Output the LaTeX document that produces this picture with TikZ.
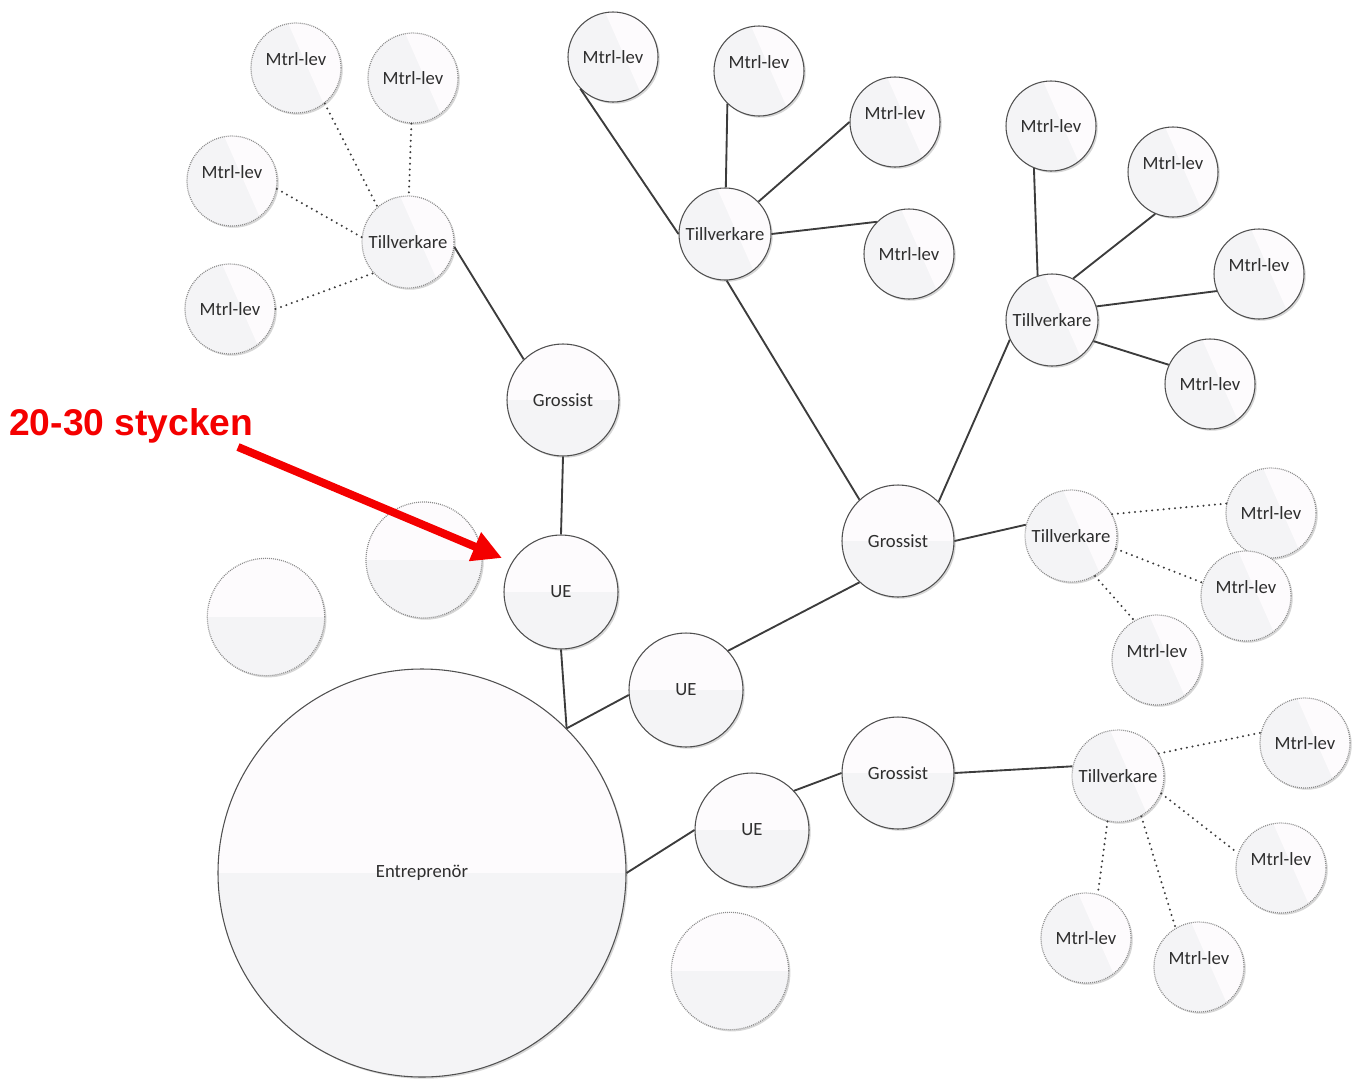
\documentclass[tikz,border=0pt]{standalone}
\usepackage{fontspec}
\setmainfont{Carlito}
\newfontfamily\redfont{Liberation Sans}
\usetikzlibrary{shadows,arrows.meta}
\definecolor{edgeC}{HTML}{505050}
\definecolor{dotC}{HTML}{8A8A8A}
\definecolor{lineC}{HTML}{3C3C3C}
\definecolor{topC}{HTML}{FDFBFD}
\definecolor{botC}{HTML}{F4F4F6}
\definecolor{txtC}{HTML}{2E2E2E}
\definecolor{arrC}{HTML}{F40000}
\tikzset{
  bub/.style={circle, inner sep=0pt, draw=edgeC, line width=0.8pt, fill=topC,
    text=txtC, font=\fontsize{14}{16}\selectfont,
    drop shadow={shadow xshift=1.3pt, shadow yshift=-1.3pt, fill=black, opacity=0.16},
    path picture={\fill[botC] (path picture bounding box.west) rectangle (path picture bounding box.south east);}},
  glare/.style={path picture={
      \fill[botC] (path picture bounding box.south west) rectangle (path picture bounding box.north east);
      \fill[topC] ([xshift=-6pt]path picture bounding box.north) -- (path picture bounding box.north east)
        -- (path picture bounding box.south east) -- ([xshift=-10pt]path picture bounding box.south east) -- cycle;}},
  dotb/.style={draw=dotC, line width=0.9pt, dash pattern=on 0.7pt off 0.8pt},
  sml/.style={bub, glare, minimum size=67.5pt},
  tvk/.style={bub, glare, minimum size=69pt},
  gro/.style={bub, minimum size=84pt},
  ue/.style={bub, minimum size=85.5pt},
  emp/.style={bub, dotb, minimum size=87pt},
  big/.style={bub, minimum size=306pt},
  up/.style={text height=10pt, text depth=14pt},
  con/.style={draw=lineC, line width=1.4pt},
  dcon/.style={draw=lineC, line width=1.7pt, line cap=round, dash pattern=on 0pt off 4.3pt},
}
\begin{document}
\begin{tikzpicture}[x=0.75pt,y=-0.75pt]
\useasboundingbox (0,0) rectangle (1354,1079);
% main nodes
\node[big] (E) at (422,873) {Entreprenör};
\node[ue] (U1) at (561,592) {UE};
\node[ue] (U2) at (686,690) {UE};
\node[ue] (U3) at (752,830) {UE};
\node[gro] (G1) at (563,400) {Grossist};
\node[gro] (G2) at (898,541) {Grossist};
\node[gro] (G3) at (898,773) {Grossist};
% empty dotted circles
\node[emp] (X1) at (424,560) {};
\node[emp, minimum size=88pt] (X2) at (266,617) {};
\node[emp, minimum size=88pt] (X3) at (730,971) {};
% Tillverkare
\node[tvk, dotb] (T1) at (408,242) {Tillverkare};
\node[tvk] (T2) at (725,234) {Tillverkare};
\node[tvk] (T3) at (1052,320) {Tillverkare};
\node[tvk, dotb] (T4) at (1071,536) {Tillverkare};
\node[tvk, dotb] (T5) at (1118,776) {Tillverkare};
% Mtrl-lev around T1 (dotted)
\node[sml, dotb, up] (M1) at (296,68) {Mtrl-lev};
\node[sml, dotb] (M2) at (413,78) {Mtrl-lev};
\node[sml, dotb, up] (M3) at (232,181) {Mtrl-lev};
\node[sml, dotb] (M4) at (230,309) {Mtrl-lev};
% Mtrl-lev around T2
\node[sml] (M5) at (613,57) {Mtrl-lev};
\node[sml, up] (M6) at (759,71) {Mtrl-lev};
\node[sml, up] (M7) at (895,122) {Mtrl-lev};
\node[sml] (M8) at (909,254) {Mtrl-lev};
% Mtrl-lev around T3
\node[sml] (M9) at (1051,126) {Mtrl-lev};
\node[sml, up] (M10) at (1173,172) {Mtrl-lev};
\node[sml, up] (M11) at (1259,274) {Mtrl-lev};
\node[sml] (M12) at (1210,384) {Mtrl-lev};
% Mtrl-lev around T4 (dotted)
\node[sml, dotb] (M13) at (1271,513) {Mtrl-lev};
\node[sml, dotb, up] (M14) at (1246,596) {Mtrl-lev};
\node[sml, dotb, up] (M15) at (1157,660) {Mtrl-lev};
% Mtrl-lev around T5 (dotted)
\node[sml, dotb] (M16) at (1305,743) {Mtrl-lev};
\node[sml, dotb, up] (M17) at (1281,868) {Mtrl-lev};
\node[sml, dotb] (M18) at (1086,938) {Mtrl-lev};
\node[sml, dotb, up] (M19) at (1199,967) {Mtrl-lev};
% solid connectors
\draw[con] (U1.south) -- (E.45);
\draw[con] (E.45) -- (U2.185);
\draw[con] (E.east) -- (U3.west);
\draw[con] (U1.north) -- (G1.south);
\draw[con] (G1.134) -- (T1.-6);
\draw[con] (U2.43) -- (G2.227);
\draw[con] (G2.133) -- (T2.272);
\draw[con] (G2.44) -- (T3.205);
\draw[con] (G2.east) -- (T4.166);
\draw[con] (U3.43) -- (G3.west);
\draw[con] (G3.east) -- (T5.168);
\draw[con] (M5.224) -- (T2.west);
\draw[con] (M6.226) -- (T2.89);
\draw[con] (T2.44) -- (M7.west);
\draw[con] (T2.east) -- (M8.135);
\draw[con] (M9.248) -- (T3.108);
\draw[con] (T3.63) -- (M10.247);
\draw[con] (T3.17) -- (M11.202);
\draw[con] (T3.-27) -- (M12.155);
% dotted connectors
\draw[dcon] (M1.309) -- (T1.131);
\draw[dcon] (M2.268) -- (T1.89);
\draw[dcon] (M3.350) -- (T1.174);
\draw[dcon] (M4.0) -- (T1.222);
\draw[dcon] (T4.28) -- (M13.168);
\draw[dcon] (T4.-16) -- (M14.163);
\draw[dcon] (T4.-59) -- (M15.120);
\draw[dcon] (T5.29) -- (M16.167);
\draw[dcon] (T5.-22) -- (M17.161);
\draw[dcon] (T5.257) -- (M18.75);
\draw[dcon] (T5.-60) -- (M19.121);
% annotation
\node[anchor=west, inner sep=0pt, text=arrC, font=\redfont\bfseries\fontsize{27.9}{30}\selectfont] (lbl) at (9,426) {20-30 stycken};
\coordinate (aS) at (238,447);
\coordinate (aE) at (502,558);
\draw[arrC, line width=6pt, -{Triangle[length=22pt,width=22pt]}] (aS) -- (aE);
\end{tikzpicture}
\end{document}
